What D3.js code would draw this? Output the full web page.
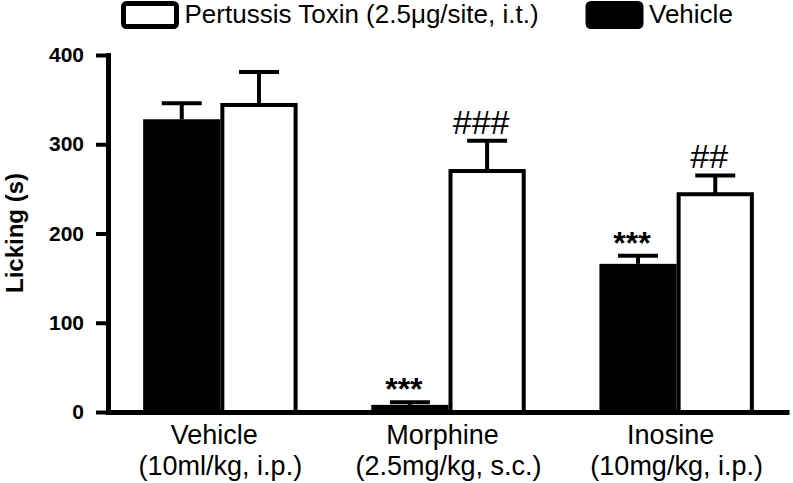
<!DOCTYPE html>
<html>
<head>
<meta charset="utf-8">
<script src="https://cdn.jsdelivr.net/npm/d3@7"></script>
<style>
  body { margin: 0; background: #fff; }
  text { font-family: 'Liberation Sans', Arial, sans-serif; fill: #000; }
</style>
</head>
<body>
<div id="chart"></div>
<script>
const groups = ['Vehicle', 'Morphine', 'Inosine'];
const groupDoses = ['(10ml/kg, i.p.)', '(2.5mg/kg, s.c.)', '(10mg/kg, i.p.)'];
const seriesKeys = ['veh', 'ptx'];
const seriesNames = ['Vehicle', 'Pertussis Toxin (2.5\u03bcg/site, i.t.)'];
const vehicleMean = [328, 8, 166];
const vehicleSem = [18, 3, 9];
const ptxMean = [344, 270, 244];
const ptxSem = [37, 34, 21];
const vehicleMarks = ['', '***', '***'];
const ptxMarks = ['', '###', '##'];
const yTicks = [0, 100, 200, 300, 400];

const width = 793;
const height = 483;

const rows = groups.map((g, i) => ({
  group: g,
  dose: groupDoses[i],
  bars: [
    {key: 'veh', mean: vehicleMean[i], sem: vehicleSem[i], mark: vehicleMarks[i]},
    {key: 'ptx', mean: ptxMean[i], sem: ptxSem[i], mark: ptxMarks[i]}
  ]
}));

const svg = d3.select('#chart').append('svg')
  .attr('width', width)
  .attr('height', height);

const x0 = d3.scaleBand()
  .domain(groups)
  .range([108, 789])
  .paddingInner(0.323)
  .paddingOuter(0.154);

const x1 = d3.scaleBand()
  .domain(seriesKeys)
  .range([0, x0.bandwidth()]);

const y = d3.scaleLinear()
  .domain([0, 400])
  .range([412, 55]);

// bars
const grp = svg.selectAll('.grp')
  .data(rows)
  .enter().append('g')
  .attr('class', 'grp')
  .attr('transform', d => 'translate(' + x0(d.group) + ',0)');

const bar = grp.selectAll('.bar')
  .data(d => d.bars)
  .enter().append('g')
  .attr('class', 'bar');

bar.append('rect')
  .attr('x', d => d.key === 'ptx' ? x1(d.key) + 2 : x1(d.key))
  .attr('y', d => y(d.mean))
  .attr('width', d => d.key === 'ptx' ? x1.bandwidth() - 4 : x1.bandwidth())
  .attr('height', d => y(0) - y(d.mean))
  .attr('fill', d => d.key === 'ptx' ? '#fff' : '#000')
  .attr('stroke', d => d.key === 'ptx' ? '#000' : 'none')
  .attr('stroke-width', 4);

// error bars (upper only)
const cx = d => x1(d.key) + x1.bandwidth() / 2;

bar.append('line')
  .attr('x1', cx)
  .attr('x2', cx)
  .attr('y1', d => y(d.mean))
  .attr('y2', d => y(d.mean + d.sem))
  .attr('stroke', '#000')
  .attr('stroke-width', 4);

bar.append('line')
  .attr('x1', d => cx(d) - 20)
  .attr('x2', d => cx(d) + 20)
  .attr('y1', d => y(d.mean + d.sem))
  .attr('y2', d => y(d.mean + d.sem))
  .attr('stroke', '#000')
  .attr('stroke-width', 4);

// significance marks
bar.filter(d => d.mark !== '')
  .append('text')
  .attr('x', cx)
  .attr('dx', -6)
  .attr('y', d => d.key === 'ptx' ? y(d.mean + d.sem) - 7 : y(d.mean + d.sem) - 2)
  .attr('text-anchor', 'middle')
  .style('font-size', d => d.key === 'ptx' ? '34px' : '32px')
  .style('font-weight', d => d.key === 'ptx' ? 'normal' : 'bold')
  .text(d => d.mark);

// axes
const yAxis = svg.append('g')
  .attr('transform', 'translate(108,0)')
  .call(d3.axisLeft(y).tickValues(yTicks).tickSize(12).tickSizeOuter(0).tickPadding(12));

yAxis.select('.domain')
  .attr('stroke-width', 5)
  .attr('stroke-linecap', 'square');
yAxis.selectAll('.tick line')
  .attr('stroke-width', 4);
yAxis.selectAll('.tick text')
  .style('font-size', '21px')
  .style('font-weight', 'bold')
  .style('font-family', "'Liberation Sans', Arial, sans-serif");

const xAxis = svg.append('g')
  .attr('transform', 'translate(0,' + y(0) + ')')
  .call(d3.axisBottom(x0).tickSize(0).tickSizeOuter(0).tickFormat(''));

xAxis.select('.domain')
  .attr('stroke-width', 5);

// category labels
const lab = svg.selectAll('.xlab')
  .data(rows)
  .enter().append('text')
  .attr('class', 'xlab')
  .attr('text-anchor', 'middle')
  .style('font-size', '27px');

lab.append('tspan')
  .attr('x', d => x0(d.group) + x0.bandwidth() / 2)
  .attr('dx', -6)
  .attr('y', 444)
  .text(d => d.group);

lab.append('tspan')
  .attr('x', d => x0(d.group) + x0.bandwidth() / 2)
  .attr('y', 475)
  .text(d => d.dose);

// y title
svg.append('text')
  .attr('transform', 'translate(23,233) rotate(-90)')
  .attr('text-anchor', 'middle')
  .style('font-size', '24px')
  .style('font-weight', 'bold')
  .text('Licking (s)');

// legend
const legendItems = [
  {name: seriesNames[1], fill: '#fff', x: 123.5},
  {name: seriesNames[0], fill: '#000', x: 588}
];

const leg = svg.selectAll('.leg')
  .data(legendItems)
  .enter().append('g')
  .attr('class', 'leg')
  .attr('transform', d => 'translate(' + d.x + ',0)');

leg.append('rect')
  .attr('x', 0)
  .attr('y', 3.5)
  .attr('width', 53)
  .attr('height', 23)
  .attr('rx', 3)
  .attr('fill', d => d.fill)
  .attr('stroke', '#000')
  .attr('stroke-width', 5);

leg.append('text')
  .attr('x', 61)
  .attr('y', 23)
  .style('font-size', '26px')
  .text(d => d.name);
</script>
</body>
</html>
